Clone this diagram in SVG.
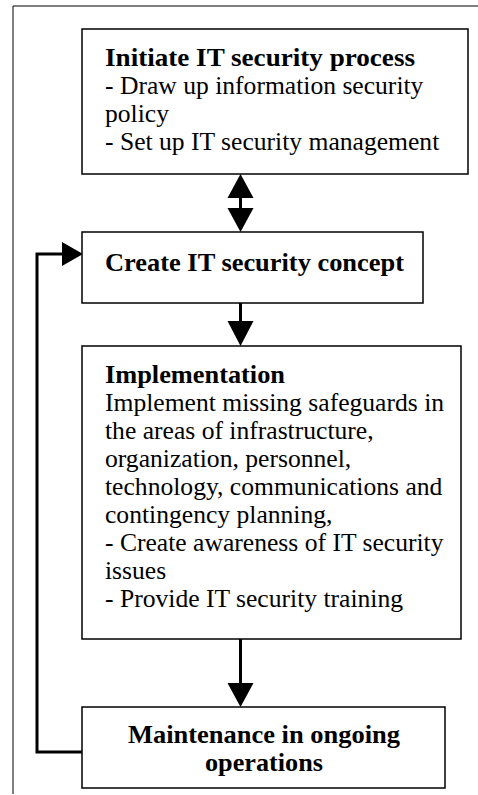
<svg xmlns="http://www.w3.org/2000/svg" width="478" height="795" viewBox="0 0 478 795">
<style>
.box{fill:#fff;stroke:#000;stroke-width:1.5}
.t{font-family:"Liberation Serif","Times New Roman",serif;font-size:25.6px;fill:#000}
.b{font-weight:bold}
.c{text-anchor:middle}
.ln{stroke:#000;stroke-width:3;fill:none}
.hd{fill:#000}
</style>
<rect width="478" height="795" fill="#fff"/>
<g id="frame">
<path d="M13 794 V6 H478" fill="none" stroke="#000" stroke-width="1"/>
</g>
<g id="connectors">
<line class="ln" x1="240.5" y1="197" x2="240.5" y2="209"/>
<polygon class="hd" points="240.5,174 227.5,198 253.5,198"/>
<polygon class="hd" points="240.5,232 227.5,208 253.5,208"/>
<line class="ln" x1="240.5" y1="303" x2="240.5" y2="322"/>
<polygon class="hd" points="240.5,346 227.5,321 253.5,321"/>
<line class="ln" x1="240.5" y1="639" x2="240.5" y2="684"/>
<polygon class="hd" points="240.5,707 227.5,683 253.5,683"/>
<path class="ln" d="M82 752 H37 V254 H64"/>
<polygon class="hd" points="83,254 62,242 62,266"/>
</g>
<g id="node1">
<rect class="box" x="82" y="29" width="386" height="145"/>
<text class="t b" x="105" y="66" textLength="310" lengthAdjust="spacingAndGlyphs">Initiate IT security process</text>
<text class="t" x="105" y="94">- Draw up information security</text>
<text class="t" x="105" y="122">policy</text>
<text class="t" x="105" y="150">- Set up IT security management</text>
</g>
<g id="node2">
<rect class="box" x="82" y="232" width="341" height="71"/>
<text class="t b" x="105" y="271" textLength="299" lengthAdjust="spacingAndGlyphs">Create IT security concept</text>
</g>
<g id="node3">
<rect class="box" x="82" y="346" width="379" height="293"/>
<text class="t b" x="105" y="383" textLength="180" lengthAdjust="spacingAndGlyphs">Implementation</text>
<text class="t" x="105" y="411">Implement missing safeguards in</text>
<text class="t" x="105" y="439">the areas of infrastructure,</text>
<text class="t" x="105" y="467">organization, personnel,</text>
<text class="t" x="105" y="495">technology, communications and</text>
<text class="t" x="105" y="523">contingency planning,</text>
<text class="t" x="105" y="551">- Create awareness of IT security</text>
<text class="t" x="105" y="579">issues</text>
<text class="t" x="105" y="607">- Provide IT security training</text>
</g>
<g id="node4">
<rect class="box" x="82" y="707" width="363" height="81"/>
<text class="t b c" x="264" y="743" textLength="272" lengthAdjust="spacingAndGlyphs">Maintenance in ongoing</text>
<text class="t b c" x="264" y="771" textLength="118" lengthAdjust="spacingAndGlyphs">operations</text>
</g>
</svg>
